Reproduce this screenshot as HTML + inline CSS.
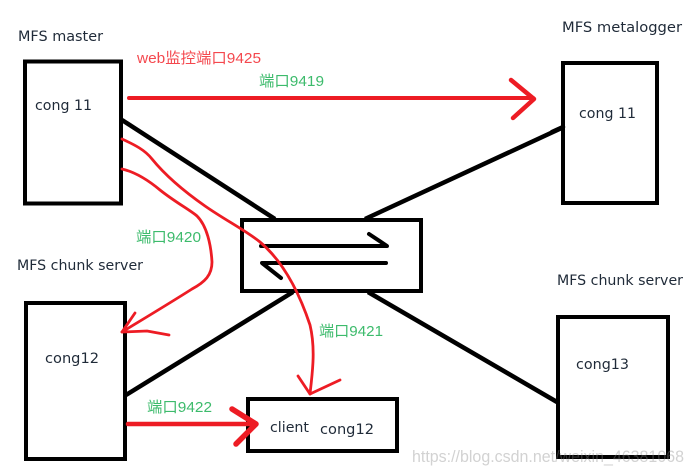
<!DOCTYPE html>
<html>
<head>
<meta charset="utf-8">
<style>
html,body{margin:0;padding:0;background:#fff;width:693px;height:474px;overflow:hidden}
svg{display:block;filter:blur(.3px)}
.t{font-family:"DejaVu Sans","Liberation Sans",sans-serif;font-size:14px;fill:#1f2a38}
.g{font-family:"Liberation Sans","Noto Sans CJK SC",sans-serif;font-size:15px;fill:#3dbb6c}
.r{font-family:"Liberation Sans","Noto Sans CJK SC",sans-serif;font-size:15px;fill:#f4484e}
.w{font-family:"Liberation Sans",sans-serif;font-size:17px;fill:#888;fill-opacity:.38}
</style>
</head>
<body>
<svg width="693" height="474" viewBox="0 0 693 474" xmlns="http://www.w3.org/2000/svg">
<g fill="none" stroke="#000" stroke-width="4.5">
<line x1="122" y1="120" x2="275" y2="219"/>
<line x1="566" y1="126" x2="365" y2="219"/>
<line x1="126" y1="395" x2="293" y2="292"/>
<line x1="368" y1="292" x2="557" y2="402"/>
</g>
<g fill="#fff" stroke="#000" stroke-width="4">
<rect x="25" y="61.5" width="96" height="142"/>
<rect x="563" y="63" width="94" height="140"/>
<rect x="26" y="303" width="99" height="156"/>
<rect x="248" y="399" width="149" height="52"/>
<rect x="558" y="317" width="110" height="140"/>
<rect x="242" y="220" width="179" height="71"/>
</g>
<line x1="563" y1="127" x2="552" y2="132" stroke="#000" stroke-width="4.5" stroke-linecap="round"/>
<g fill="none" stroke="#000" stroke-width="4" stroke-linecap="round" stroke-linejoin="round">
<polyline points="261,246 387,246 369,234"/>
<polyline points="386,263 262,263 281,278"/>
</g>
<g fill="none" stroke="#ed1c24" stroke-linecap="round" stroke-linejoin="round">
<line x1="129" y1="98" x2="533" y2="98" stroke-width="4"/>
<polyline points="511,80 534,99 513,118" stroke-width="4.5"/>
<line x1="128" y1="424" x2="255" y2="424" stroke-width="4.5"/>
<polyline points="232,409 256,424 236,444" stroke-width="5.5"/>
<path d="M122,139 C135,145 145,150 152,159 C165,175 185,192 205,206 C225,220 245,230 260,242 C285,263 300,295 310,325 C316,350 312,375 310,394" stroke-width="2.8"/>
<polyline points="298,376 310,394 340,380" stroke-width="2.8"/>
<path d="M122,169 C135,172 148,180 160,190 C175,202 190,210 197,216 C207,226 211,245 212,262 C212,275 205,282 192,289 C170,303 145,318 122,332" stroke-width="2.8"/>
<polyline points="135,313 122,332 147,331 169,335" stroke-width="2.8"/>
</g>
<text class="t" x="18" y="41" textLength="85" lengthAdjust="spacingAndGlyphs">MFS master</text>
<text class="t" x="562" y="32" textLength="120" lengthAdjust="spacingAndGlyphs">MFS metalogger</text>
<text class="t" x="17" y="270" textLength="126" lengthAdjust="spacingAndGlyphs">MFS chunk server</text>
<text class="t" x="557" y="285" textLength="126" lengthAdjust="spacingAndGlyphs">MFS chunk server</text>
<text class="t" x="35" y="110" textLength="57" lengthAdjust="spacingAndGlyphs">cong 11</text>
<text class="t" x="579" y="118" textLength="57" lengthAdjust="spacingAndGlyphs">cong 11</text>
<text class="t" x="45" y="363" textLength="54" lengthAdjust="spacingAndGlyphs">cong12</text>
<text class="t" x="270" y="432" textLength="39" lengthAdjust="spacingAndGlyphs">client</text>
<text class="t" x="320" y="434" textLength="54" lengthAdjust="spacingAndGlyphs">cong12</text>
<text class="t" x="576" y="369" textLength="53" lengthAdjust="spacingAndGlyphs">cong13</text>
<text class="r" x="137" y="63" textLength="124" lengthAdjust="spacingAndGlyphs">web监控端口9425</text>
<text class="g" x="259" y="86" textLength="65" lengthAdjust="spacingAndGlyphs">端口9419</text>
<text class="g" x="136" y="242" textLength="65" lengthAdjust="spacingAndGlyphs">端口9420</text>
<text class="g" x="319" y="336" textLength="64" lengthAdjust="spacingAndGlyphs">端口9421</text>
<text class="g" x="147" y="412" textLength="65" lengthAdjust="spacingAndGlyphs">端口9422</text>
<text class="w" x="412" y="462" textLength="272" lengthAdjust="spacingAndGlyphs">https://blog.csdn.net/weixin_46381068</text>
</svg>
</body>
</html>
